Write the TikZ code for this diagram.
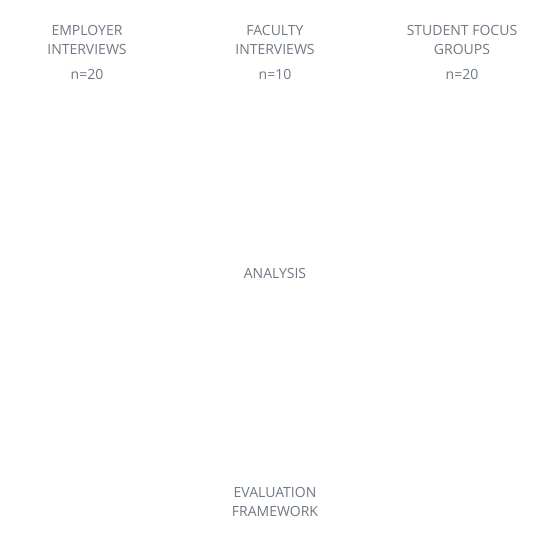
\documentclass[tikz,border=0pt]{standalone}
\usepackage{fontspec}
\setmainfont{Open Sans}
\definecolor{labelgray}{HTML}{6F7A85}
\begin{document}
\begin{tikzpicture}[x=1pt,y=-1pt,
  lbl/.style={text=labelgray, font=\fontsize{14}{19}\selectfont, align=center, inner sep=0pt, anchor=base},
  cnt/.style={text=labelgray, font=\fontsize{14}{19}\selectfont, inner sep=0pt, anchor=base}]
\useasboundingbox[fill=white] (0,0) rectangle (546,545);
\node[lbl] (emp) at (87,55) {EMPLOYER\\INTERVIEWS};
\node[lbl] (fac) at (275,55) {FACULTY\\INTERVIEWS};
\node[lbl] (stu) at (462,55) {STUDENT FOCUS\\GROUPS};
\node[cnt] (empn) at (87,80) {n=20};
\node[cnt] (facn) at (275,80) {n=10};
\node[cnt] (stun) at (462,80) {n=20};
\node[lbl] (ana) at (275,279) {ANALYSIS};
\node[lbl] (eva) at (275,516) {EVALUATION\\FRAMEWORK};
\end{tikzpicture}
\end{document}
